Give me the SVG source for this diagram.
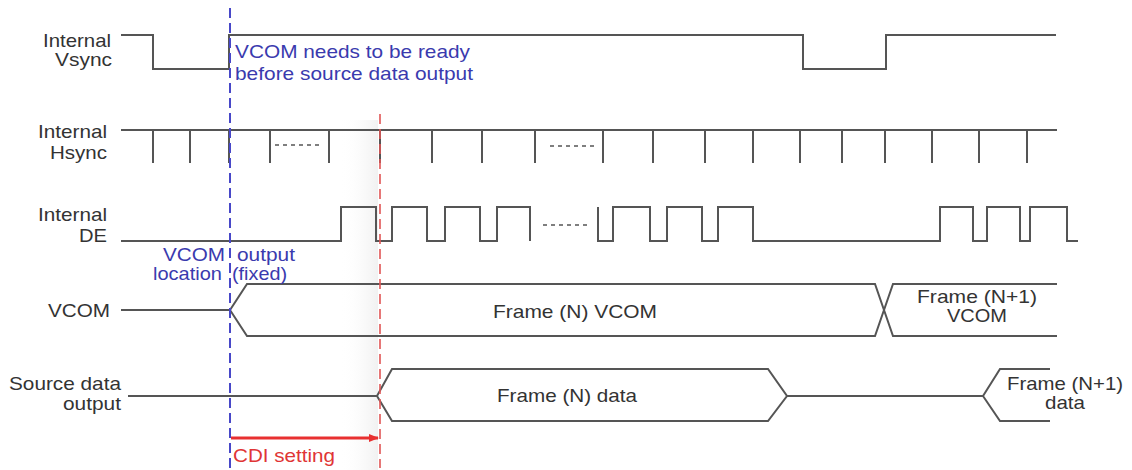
<svg xmlns="http://www.w3.org/2000/svg" width="1132" height="470" viewBox="0 0 1132 470">
<defs>
<style>
.sig{fill:none;stroke:#555;stroke-width:2;stroke-linejoin:miter}
.dots{fill:none;stroke:#555;stroke-width:1.6;stroke-dasharray:4 4}
.lbl{font-family:"Liberation Sans",Arial,sans-serif;font-size:19px;fill:#333}
.mid{text-anchor:middle}
.end{text-anchor:end}
.blue{font-family:"Liberation Sans",Arial,sans-serif;font-size:19px;fill:#3a3aae}
.red{font-family:"Liberation Sans",Arial,sans-serif;font-size:19px;fill:#e03535}
.bdash{stroke:#4848c8;stroke-width:2;stroke-dasharray:10 5;fill:none}
.rdash{stroke:#e05555;stroke-width:1.6;stroke-dasharray:10 5;fill:none}
</style>
<linearGradient id="shade" x1="0" y1="0" x2="1" y2="0">
<stop offset="0" stop-color="#ffffff" stop-opacity="0"/>
<stop offset="1" stop-color="#f1f1f1"/>
</linearGradient>
<marker id="arr" markerWidth="10" markerHeight="8" refX="9" refY="4" orient="auto" markerUnits="userSpaceOnUse">
<path d="M0,0 L10,4 L0,8 Z" fill="#e83030"/>
</marker>
</defs>
<rect width="1132" height="470" fill="#fff"/>
<rect x="340" y="120" width="38" height="350" fill="url(#shade)"/>

<g id="vsync">
<text class="lbl end" x="111" y="47" textLength="68" lengthAdjust="spacingAndGlyphs">Internal</text>
<text class="lbl end" x="112" y="66" textLength="57" lengthAdjust="spacingAndGlyphs">Vsync</text>
<polyline class="sig" points="121,35 153,35 153,69 229,69 229,35 803,35 803,69 886,69 886,35 1056,35"/>
</g>

<g id="hsync">
<text class="lbl end" x="107" y="138" textLength="69" lengthAdjust="spacingAndGlyphs">Internal</text>
<text class="lbl end" x="107" y="159" textLength="57" lengthAdjust="spacingAndGlyphs">Hsync</text>
<path class="sig" d="M121,130 H1057 M153,130 V163 M190,130 V163 M229,130 V163 M270,130 V163 M329,130 V163 M380,130 V163 M432,130 V163 M482,130 V163 M535,130 V163 M603,130 V163 M653,130 V163 M705,130 V163 M753,130 V163 M800,130 V163 M842,130 V163 M885,130 V163 M932,130 V163 M979,130 V163 M1027,130 V163"/>
<path class="dots" d="M275,145 H323 M550,146 H597"/>
</g>

<g id="de">
<text class="lbl end" x="107" y="221" textLength="69" lengthAdjust="spacingAndGlyphs">Internal</text>
<text class="lbl end" x="107" y="242" textLength="28" lengthAdjust="spacingAndGlyphs">DE</text>
<polyline class="sig" points="121,241 341,241 341,207 376,207 376,241 392,241 392,207 427,207 427,241 445,241 445,207 480,207 480,241 497,241 497,207 530,207 530,241"/>
<path class="dots" d="M543,225 H590"/>
<polyline class="sig" points="598,207 598,241 613,241 613,207 650,207 650,241 667,241 667,207 702,207 702,241 718,241 718,207 753,207 753,241 940,241 940,207 973,207 973,241 987,241 987,207 1020,207 1020,241 1030,241 1030,207 1067,207 1067,241 1078,241"/>
</g>

<g id="vcom">
<text class="lbl end" x="110" y="317" textLength="62" lengthAdjust="spacingAndGlyphs">VCOM</text>
<path class="sig" d="M121,310 H230 L247,284 H875 L893,336 H1057 M230,310 L247,336 H875 L893,284 H1057"/>
<text class="lbl mid" x="575" y="318" textLength="164" lengthAdjust="spacingAndGlyphs">Frame (N) VCOM</text>
<text class="lbl mid" x="977" y="303" textLength="120" lengthAdjust="spacingAndGlyphs">Frame (N+1)</text>
<text class="lbl mid" x="977" y="322" textLength="60" lengthAdjust="spacingAndGlyphs">VCOM</text>
</g>

<g id="source">
<text class="lbl end" x="121" y="390" textLength="112" lengthAdjust="spacingAndGlyphs">Source data</text>
<text class="lbl end" x="121" y="410" textLength="58" lengthAdjust="spacingAndGlyphs">output</text>
<path class="sig" d="M128,396 H377 L392,369 H768 L787,396 L768,421 H392 L377,396 M787,396 H983 L1000,369 H1050 M983,396 L1000,421 H1050"/>
<text class="lbl mid" x="567" y="402" textLength="140" lengthAdjust="spacingAndGlyphs">Frame (N) data</text>
<text class="lbl mid" x="1065" y="390" textLength="116" lengthAdjust="spacingAndGlyphs">Frame (N+1)</text>
<text class="lbl mid" x="1065" y="409" textLength="40" lengthAdjust="spacingAndGlyphs">data</text>
</g>

<g id="vcom-note">
<text class="blue" x="235" y="58" textLength="235" lengthAdjust="spacingAndGlyphs">VCOM needs to be ready</text>
<text class="blue" x="235" y="80" textLength="238" lengthAdjust="spacingAndGlyphs">before source data output</text>
<text class="blue" x="163" y="261" textLength="62" lengthAdjust="spacingAndGlyphs">VCOM</text>
<text class="blue" x="237" y="261" textLength="58" lengthAdjust="spacingAndGlyphs">output</text>
<text class="blue" x="153" y="280" textLength="69" lengthAdjust="spacingAndGlyphs">location</text>
<text class="blue" x="232" y="280" textLength="55" lengthAdjust="spacingAndGlyphs">(fixed)</text>
</g>

<g id="cdi-note">
<text class="red" x="233" y="462" textLength="102" lengthAdjust="spacingAndGlyphs">CDI setting</text>
</g>

<g id="connectors">
<line class="bdash" x1="230" y1="8" x2="230" y2="468"/>
<line class="rdash" x1="380" y1="114" x2="380" y2="468"/>
<line x1="231" y1="438" x2="378" y2="438" stroke="#e83030" stroke-width="3" marker-end="url(#arr)"/>
</g>
</svg>
